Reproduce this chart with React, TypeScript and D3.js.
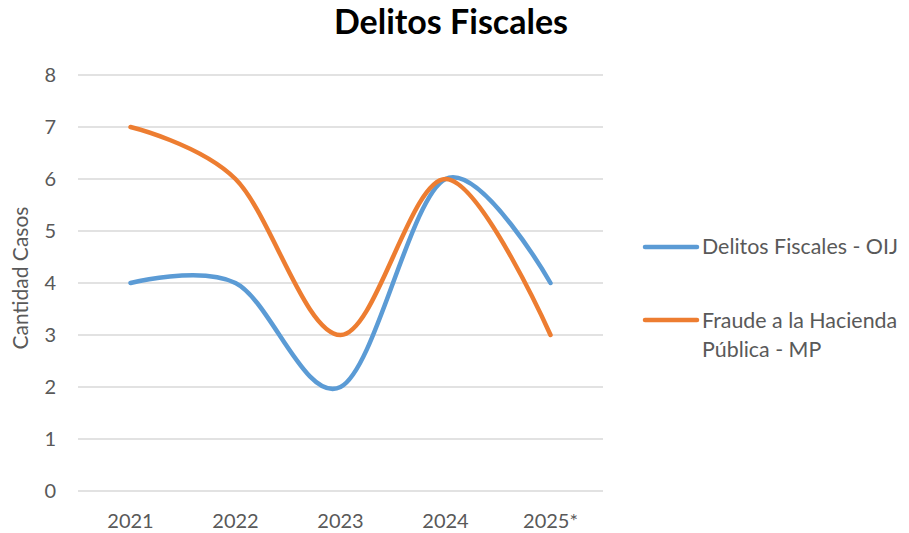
import React from "react";
import * as d3 from "d3";

const categories = ["2021", "2022", "2023", "2024", "2025*"];
const oij = [4, 4, 2, 6, 4];
const mp = [7, 6, 3, 6, 3];
const yTicks = [0, 1, 2, 3, 4, 5, 6, 7, 8];
const seriesNames = ["Delitos Fiscales - OIJ", "Fraude a la Hacienda", "Pública - MP"];

const W = 909, H = 533;
const font = "Lato, 'Open Sans', sans-serif";

export default function App() {
  const x = d3.scaleBand().domain(categories).range([78, 603]);
  const y = d3.scaleLinear().domain([0, 8]).range([491, 75]);
  const cx = (c: string) => (x(c) as number) + x.bandwidth() / 2;
  const line = d3
    .line<number>()
    .x((_, i) => cx(categories[i]))
    .y((d) => y(d))
    .curve(d3.curveCardinal.tension(0));
  const series = [
    { values: oij, color: "#5B9BD5" },
    { values: mp, color: "#ED7D31" },
  ];
  return (
    <svg width={W} height={H} style={{ position: "absolute", left: 0, top: 0 }} fontFamily={font}>
      <rect width={W} height={H} fill="#fff" />
      <text x={451} y={34} textAnchor="middle" fontSize={34} fontWeight="bold" fill="#000">
        Delitos Fiscales
      </text>
      {yTicks.map((t) => (
        <g key={t}>
          <line x1={78} x2={603} y1={y(t)} y2={y(t)} stroke="#d9d9d9" strokeWidth={1.5} />
          <text x={56} y={y(t)} dy="0.35em" textAnchor="end" fontSize={20} fill="#595959">
            {t}
          </text>
        </g>
      ))}
      {categories.map((c) => (
        <text key={c} x={cx(c)} y={528} textAnchor="middle" fontSize={20} fill="#595959">
          {c}
        </text>
      ))}
      <text
        transform={`translate(28,${278}) rotate(-90)`}
        textAnchor="middle"
        fontSize={21}
        fill="#595959"
      >
        Cantidad Casos
      </text>
      {series.map((s, i) => (
        <path
          key={i}
          d={line(s.values) as string}
          fill="none"
          stroke={s.color}
          strokeWidth={4.5}
          strokeLinecap="round"
          strokeLinejoin="round"
        />
      ))}
      <line x1={645} x2={697} y1={247} y2={247} stroke="#5B9BD5" strokeWidth={4.5} strokeLinecap="round" />
      <text x={702} y={247} dy="0.35em" fontSize={21.4} fill="#595959">
        {seriesNames[0]}
      </text>
      <line x1={645} x2={697} y1={320} y2={320} stroke="#ED7D31" strokeWidth={4.5} strokeLinecap="round" />
      <text x={702} y={321} dy="0.35em" fontSize={21.4} fill="#595959">
        {seriesNames[1]}
      </text>
      <text x={702} y={350} dy="0.35em" fontSize={21.4} fill="#595959">
        {seriesNames[2]}
      </text>
    </svg>
  );
}
